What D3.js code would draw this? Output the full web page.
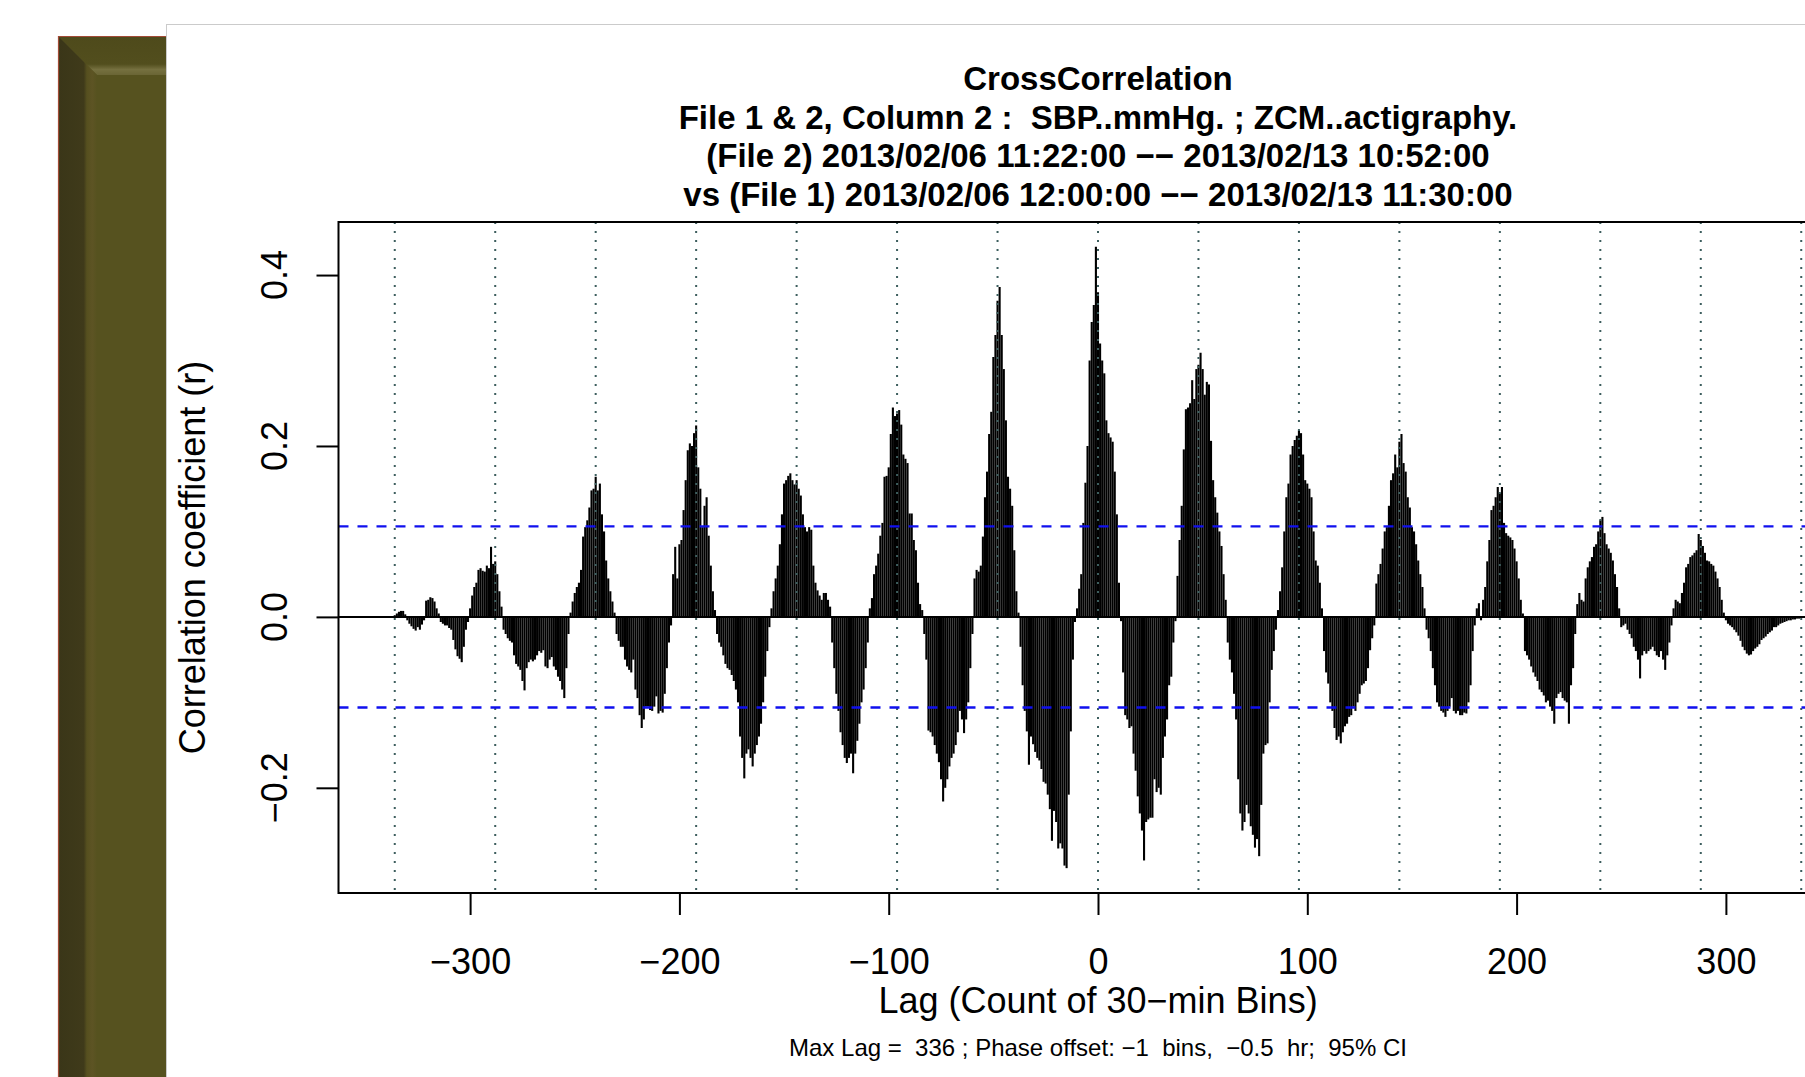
<!DOCTYPE html>
<html>
<head>
<meta charset="utf-8">
<script src="https://cdn.jsdelivr.net/npm/d3@7"></script>
<style>
  html, body { margin: 0; padding: 0; background: #ffffff; overflow: hidden; }
  svg { display: block; }
  text { font-family: "Liberation Sans", Arial, Helvetica, sans-serif; fill: #000; }
</style>
</head>
<body>
<svg id="chart" width="1805" height="1077"></svg>
<script>
// ---- data -----------------------------------------------------------------
const maxLag = 336;          // lags run from -maxLag to +maxLag (30-min bins)
const dayBins = 48;          // one day = 48 bins, used for the dotted guides
const ciLimit = 0.106;       // 95% confidence bound (±)

// cross-correlation coefficient at each lag, 24 lags per row
const corr = [
  /* -336 */  0.002, 0.004, 0.006, 0.007, 0.007, 0.003,-0.004,-0.008,-0.011,-0.014,-0.016,-0.012,-0.015,-0.009,-0.004, 0.019, 0.020, 0.023, 0.022, 0.018, 0.010, 0.004,-0.006,-0.008,
  /* -312 */ -0.010,-0.010,-0.013,-0.015,-0.027,-0.038,-0.046,-0.049,-0.053,-0.035,-0.015,-0.006, 0.010, 0.025, 0.035, 0.040, 0.055, 0.057, 0.054, 0.053, 0.060, 0.057, 0.082, 0.062,
  /* -288 */  0.065, 0.050, 0.030, 0.012,-0.015,-0.020,-0.025,-0.028,-0.030,-0.045,-0.055,-0.058,-0.062,-0.075,-0.086,-0.060,-0.053,-0.050,-0.052,-0.050,-0.045,-0.040,-0.042,-0.039,
  /* -264 */ -0.058,-0.060,-0.050,-0.047,-0.058,-0.062,-0.070,-0.075,-0.085,-0.095,-0.060,-0.020, 0.005, 0.018, 0.028, 0.035, 0.040, 0.055, 0.094, 0.105, 0.113, 0.128, 0.148, 0.150,
  /* -240 */  0.164, 0.148, 0.156, 0.120, 0.100, 0.066, 0.045, 0.030, 0.018, 0.005,-0.020,-0.028,-0.035,-0.035,-0.050,-0.058,-0.062,-0.065,-0.050,-0.085,-0.095,-0.115,-0.130,-0.120,
  /* -216 */ -0.105,-0.105,-0.109,-0.110,-0.105,-0.093,-0.113,-0.110,-0.112,-0.090,-0.060,-0.030,-0.010, 0.050, 0.082, 0.045, 0.085, 0.090, 0.125, 0.160, 0.195, 0.203, 0.200, 0.215,
  /* -192 */  0.224, 0.175, 0.150, 0.105, 0.130, 0.140, 0.095, 0.060, 0.030, 0.008,-0.020,-0.030,-0.035,-0.045,-0.055,-0.060,-0.062,-0.068,-0.075,-0.085,-0.100,-0.140,-0.165,-0.189,
  /* -168 */ -0.160,-0.155,-0.165,-0.175,-0.160,-0.150,-0.140,-0.125,-0.100,-0.070,-0.040,-0.012, 0.010, 0.030, 0.045, 0.060, 0.085, 0.120, 0.156, 0.160, 0.165, 0.168, 0.160, 0.155,
  /* -144 */  0.160, 0.150, 0.142, 0.120, 0.105, 0.100, 0.105, 0.102, 0.060, 0.040, 0.031, 0.025, 0.020, 0.028, 0.028, 0.020, 0.012,-0.030,-0.060,-0.090,-0.110,-0.135,-0.150,-0.165,
  /* -120 */ -0.171,-0.165,-0.160,-0.183,-0.160,-0.145,-0.125,-0.100,-0.085,-0.060,-0.030, 0.010, 0.022, 0.050, 0.060, 0.074, 0.095, 0.110, 0.164, 0.165, 0.175, 0.214, 0.245, 0.235,
  /*  -96 */  0.238, 0.242, 0.225, 0.190, 0.185, 0.180, 0.121, 0.121, 0.090, 0.078, 0.040, 0.015, 0.008,-0.020,-0.050,-0.133,-0.135,-0.140,-0.150,-0.160,-0.170,-0.190,-0.216,-0.200,
  /*  -72 */ -0.190,-0.175,-0.165,-0.160,-0.150,-0.135,-0.110,-0.120,-0.136,-0.120,-0.100,-0.060,-0.020, 0.045, 0.055, 0.053, 0.060, 0.094, 0.140, 0.170, 0.214, 0.240, 0.304, 0.330,
  /*  -48 */  0.370, 0.386, 0.330, 0.290, 0.230, 0.164, 0.150, 0.130, 0.078, 0.030, 0.005,-0.035,-0.080,-0.110,-0.134,-0.173,-0.140,-0.149,-0.158,-0.165,-0.168,-0.178,-0.193,-0.195,
  /*  -24 */ -0.208,-0.225,-0.262,-0.227,-0.240,-0.271,-0.265,-0.271,-0.291,-0.294,-0.208,-0.134,-0.050,-0.006, 0.010, 0.033, 0.050, 0.110, 0.157, 0.200, 0.300, 0.345, 0.365, 0.433,
  /*    0 */  0.380, 0.320, 0.300, 0.285, 0.230, 0.215, 0.210, 0.205, 0.170, 0.120, 0.040,-0.005,-0.065,-0.115,-0.120,-0.130,-0.128,-0.160,-0.180,-0.210,-0.230,-0.250,-0.285,-0.240,
  /*   24 */ -0.237,-0.235,-0.235,-0.190,-0.205,-0.200,-0.208,-0.165,-0.140,-0.120,-0.080,-0.070,-0.030,-0.005, 0.048, 0.090, 0.130, 0.196, 0.243, 0.245, 0.250, 0.277, 0.255, 0.290,
  /*   48 */  0.295, 0.309, 0.290, 0.260, 0.275, 0.272, 0.206, 0.160, 0.140, 0.122, 0.100, 0.083, 0.050, 0.020,-0.030,-0.050,-0.065,-0.090,-0.120,-0.190,-0.230,-0.250,-0.240,-0.220,
  /*   72 */ -0.230,-0.245,-0.255,-0.270,-0.260,-0.280,-0.220,-0.160,-0.150,-0.148,-0.100,-0.062,-0.040,-0.015, 0.008, 0.030, 0.058, 0.100, 0.140, 0.156, 0.190, 0.200, 0.207, 0.212,
  /*   96 */  0.218, 0.215, 0.190, 0.160, 0.156, 0.150, 0.140, 0.100, 0.066, 0.060, 0.040, 0.010,-0.040,-0.065,-0.078,-0.100,-0.110,-0.130,-0.144,-0.140,-0.148,-0.135,-0.128,-0.125,
  /*  120 */ -0.117,-0.115,-0.105,-0.110,-0.100,-0.090,-0.080,-0.078,-0.075,-0.060,-0.039,-0.025,-0.010, 0.039, 0.050, 0.062, 0.080, 0.100, 0.105, 0.130, 0.160, 0.168, 0.190, 0.175,
  /*  144 */  0.205, 0.214, 0.180, 0.170, 0.140, 0.128, 0.105, 0.100, 0.085, 0.066, 0.050, 0.035, 0.010,-0.015,-0.025,-0.040,-0.060,-0.080,-0.100,-0.105,-0.110,-0.112,-0.117,-0.110,
  /*  168 */ -0.105,-0.095,-0.110,-0.113,-0.110,-0.115,-0.115,-0.112,-0.113,-0.100,-0.080,-0.040,-0.010, 0.010, 0.016,-0.004, 0.020, 0.035, 0.065, 0.090, 0.125, 0.130, 0.140, 0.152,
  /*  192 */  0.145, 0.152, 0.110, 0.098, 0.095, 0.093, 0.090, 0.080, 0.065, 0.045, 0.020, 0.004,-0.040,-0.045,-0.050,-0.058,-0.065,-0.070,-0.075,-0.085,-0.088,-0.092,-0.100,-0.098,
  /*  216 */ -0.105,-0.110,-0.125,-0.095,-0.090,-0.088,-0.095,-0.098,-0.100,-0.125,-0.080,-0.060,-0.020, 0.015, 0.028, 0.020, 0.018, 0.045, 0.058, 0.065, 0.070, 0.082, 0.085, 0.100,
  /*  240 */  0.113, 0.117, 0.098, 0.085, 0.080, 0.075, 0.066, 0.050, 0.035, 0.010,-0.012,-0.010,-0.008,-0.015,-0.020,-0.025,-0.035,-0.040,-0.050,-0.072,-0.045,-0.040,-0.043,-0.040,
  /*  264 */ -0.038,-0.035,-0.040,-0.045,-0.047,-0.040,-0.050,-0.062,-0.045,-0.030,-0.010, 0.010, 0.020, 0.018, 0.016, 0.028, 0.040, 0.058, 0.062, 0.070, 0.072, 0.075, 0.078, 0.097,
  /*  288 */  0.090, 0.083, 0.075, 0.066, 0.065, 0.062, 0.060, 0.053, 0.045, 0.035, 0.020, 0.005,-0.004,-0.008,-0.010,-0.012,-0.015,-0.018,-0.022,-0.028,-0.035,-0.039,-0.043,-0.045,
  /*  312 */ -0.044,-0.040,-0.037,-0.035,-0.032,-0.027,-0.025,-0.023,-0.020,-0.018,-0.016,-0.012,-0.012,-0.010,-0.008,-0.007,-0.006,-0.005,-0.004,-0.004,-0.003,-0.003,-0.002,-0.002,
  /*  336 */ -0.001
];

const xTicks = [-300, -200, -100, 0, 100, 200, 300];
const yTicks = [-0.2, 0.0, 0.2, 0.4];

const titleLines = [
  "CrossCorrelation",
  "File 1 & 2, Column 2 :  SBP..mmHg. ; ZCM..actigraphy.",
  "(File 2) 2013/02/06 11:22:00 \u2212\u2212 2013/02/13 10:52:00",
  "vs (File 1) 2013/02/06 12:00:00 \u2212\u2212 2013/02/13 11:30:00"
];
const xLabel = "Lag (Count of 30\u2212min Bins)";
const yLabel = "Correlation coefficient (r)";
const footnote = "Max Lag =  336 ; Phase offset: \u22121  bins,  \u22120.5  hr;  95% CI";

// ---- layout -----------------------------------------------------------------
const svg = d3.select("#chart");
const plot = { left: 338.5, right: 1857.5, top: 222, bottom: 893 };

const lags = d3.range(-maxLag, -maxLag + corr.length);
const series = lags.map((lag, i) => ({ lag, r: corr[i] }));

// R-style 4% padding around the data ranges
const xPad = 0.04 * (2 * maxLag);
const x = d3.scaleLinear()
  .domain([-maxLag - xPad, maxLag + xPad])
  .range([plot.left, plot.right]);

const [rMin, rMax] = d3.extent(corr);
const yPad = 0.04 * (rMax - rMin);
const y = d3.scaleLinear()
  .domain([rMin - yPad, rMax + yPad])
  .range([plot.bottom, plot.top]);

// ---- slide frame behind the figure --------------------------------------------
const defs = svg.append("defs");
const gLeft = defs.append("linearGradient").attr("id", "bevelLeft")
  .attr("x1", "0%").attr("x2", "100%").attr("y1", "0%").attr("y2", "0%");
[["0%", "#3a3618"], ["66%", "#3f3a1a"], ["74%", "#56501f"], ["88%", "#5d5424"], ["100%", "#56521f"]]
  .forEach(([o, c]) => gLeft.append("stop").attr("offset", o).attr("stop-color", c));
const gTop = defs.append("linearGradient").attr("id", "bevelTop")
  .attr("x1", "0%").attr("x2", "0%").attr("y1", "0%").attr("y2", "100%");
[["0%", "#4e4a1b"], ["72%", "#524e1d"], ["86%", "#75703f"], ["100%", "#6a6535"]]
  .forEach(([o, c]) => gTop.append("stop").attr("offset", o).attr("stop-color", c));

const frame = svg.append("g");
frame.append("rect").attr("x", 58).attr("y", 36).attr("width", 130).attr("height", 1060).attr("fill", "#56521f");
frame.append("polygon").attr("points", "58,36 220,36 220,75 97,75").attr("fill", "url(#bevelTop)");
frame.append("polygon").attr("points", "58,36 97,75 97,1077 58,1077").attr("fill", "url(#bevelLeft)");
frame.append("path").attr("d", "M58.5,1077 L58.5,36.5 L200,36.5")
  .attr("fill", "none").attr("stroke", "#a24b36").attr("stroke-width", 1.2);

// white page holding the chart
svg.append("rect")
  .attr("x", 166.5).attr("y", 24.5).attr("width", 1700).attr("height", 1100)
  .attr("fill", "#ffffff").attr("stroke", "#cbcbcb").attr("stroke-width", 1);

// ---- correlation bars (type "h") ------------------------------------------------
svg.append("g")
  .selectAll("line")
  .data(series)
  .join("line")
  .attr("x1", d => x(d.lag)).attr("x2", d => x(d.lag))
  .attr("y1", y(0)).attr("y2", d => y(d.r))
  .attr("stroke", "#000").attr("stroke-width", 2.1);

// zero reference
svg.append("line")
  .attr("x1", plot.left).attr("x2", plot.right)
  .attr("y1", y(0)).attr("y2", y(0))
  .attr("stroke", "#000").attr("stroke-width", 2);

// dotted day markers
svg.append("g")
  .selectAll("line")
  .data(d3.range(-maxLag, maxLag + 1, dayBins))
  .join("line")
  .attr("x1", d => x(d)).attr("x2", d => x(d))
  .attr("y1", plot.top).attr("y2", plot.bottom)
  .attr("stroke", "#3d5e5e").attr("stroke-width", 2)
  .attr("stroke-dasharray", "2,7");

// 95% confidence limits
svg.append("g")
  .selectAll("line")
  .data([ciLimit, -ciLimit])
  .join("line")
  .attr("x1", plot.left).attr("x2", plot.right)
  .attr("y1", d => y(d)).attr("y2", d => y(d))
  .attr("stroke", "#1010ee").attr("stroke-width", 2.3)
  .attr("stroke-dasharray", "10,9");

// plot box
svg.append("rect")
  .attr("x", plot.left).attr("y", plot.top)
  .attr("width", plot.right - plot.left).attr("height", plot.bottom - plot.top)
  .attr("fill", "none").attr("stroke", "#000").attr("stroke-width", 2);

// ---- axes --------------------------------------------------------------------
const xAxis = svg.append("g")
  .attr("transform", `translate(0,${plot.bottom})`)
  .call(d3.axisBottom(x).tickValues(xTicks).tickSize(22).tickPadding(33)
    .tickFormat(d3.format("d")));
xAxis.select(".domain").remove();
xAxis.selectAll(".tick line").attr("stroke", "#000").attr("stroke-width", 2);
xAxis.selectAll(".tick text")
  .attr("font-family", "'Liberation Sans', Arial, Helvetica, sans-serif")
  .attr("font-size", 36).attr("fill", "#000");

const yAxis = svg.append("g")
  .attr("transform", `translate(${plot.left},0)`)
  .call(d3.axisLeft(y).tickValues(yTicks).tickSize(22).tickFormat(""));
yAxis.select(".domain").remove();
yAxis.selectAll(".tick line").attr("stroke", "#000").attr("stroke-width", 2);

// y tick labels run parallel to the axis
const yLabelX = 287;
svg.append("g")
  .selectAll("text")
  .data(yTicks)
  .join("text")
  .attr("x", yLabelX).attr("y", d => y(d))
  .attr("transform", d => `rotate(-90,${yLabelX},${y(d)})`)
  .attr("text-anchor", "middle")
  .attr("font-size", 36)
  .text(d3.format(".1f"));

// ---- titles and labels ------------------------------------------------------------
const cx = (plot.left + plot.right) / 2;
svg.append("g")
  .selectAll("text")
  .data(titleLines)
  .join("text")
  .attr("x", cx).attr("y", (d, i) => 90 + i * 38.7)
  .attr("text-anchor", "middle")
  .attr("font-size", 33).attr("font-weight", "bold")
  .style("white-space", "pre")
  .text(d => d);

svg.append("text")
  .attr("x", cx).attr("y", 1013)
  .attr("text-anchor", "middle").attr("font-size", 36)
  .text(xLabel);

const yTitleX = 205, yTitleY = (plot.top + plot.bottom) / 2;
svg.append("text")
  .attr("x", yTitleX).attr("y", yTitleY)
  .attr("transform", `rotate(-90,${yTitleX},${yTitleY})`)
  .attr("text-anchor", "middle").attr("font-size", 36)
  .text(yLabel);

svg.append("text")
  .attr("x", cx).attr("y", 1056)
  .attr("text-anchor", "middle").attr("font-size", 24)
  .style("white-space", "pre")
  .text(footnote);
</script>
</body>
</html>
